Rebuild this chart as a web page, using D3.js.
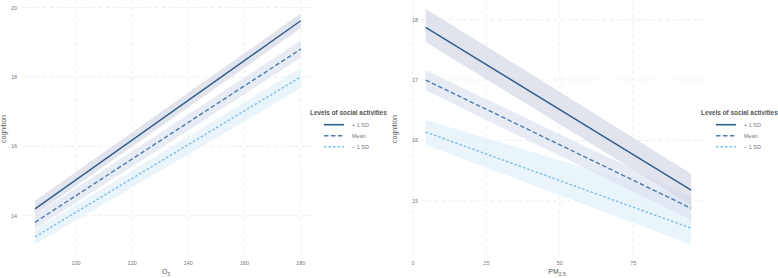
<!DOCTYPE html>
<html>
<head>
<meta charset="utf-8">
<script src="https://cdn.jsdelivr.net/npm/d3@7"></script>
<style>
  body { margin: 0; background: #fff; }
  svg { display: block; font-family: "Liberation Sans", Arial, sans-serif; }
</style>
</head>
<body>
<svg id="chart" width="778" height="278"></svg>
<script>
// series shared by both panels
const levels = ['+ 1 SD', 'Mean', '\u2212 1 SD'];
const lineColors = ['#2c5d8c', '#4c7cb0', '#7ebfe6'];
const bandColors = ['#d6d9e6', '#dbe2f0', '#e0effa'];

// O3 panel (fitted lines at ends of data range)
const o3X = [85.4, 180];
const o3Fit = [[14.2, 19.62], [13.81, 18.8], [13.39, 18.0]];
const o3Lo = [[14.03, 19.40], [13.62, 18.55], [13.17, 17.68]];
const o3Hi = [[14.43, 19.83], [14.02, 19.05], [13.6, 18.26]];
const o3XTicks = [100, 120, 140, 160, 180];
const o3YTicks = [14, 16, 18, 20];

// PM2.5 panel
const pmX = [4.3, 94.7];
const pmFit = [[17.87, 15.18], [17.0, 14.88], [16.14, 14.55]];
const pmLo = [[17.63, 14.93], [16.83, 14.69], [15.93, 14.28]];
const pmHi = [[18.18, 15.45], [17.16, 15.07], [16.34, 15.02]];
const pmXTicks = [0, 25, 50, 75];
const pmYTicks = [15, 16, 17, 18];

const svg = d3.select('#chart');
const dashes = [null, '4.5,2.5', '2.5,2'];

function drawPanel(cfg) {
    const x = d3.scaleLinear().domain(cfg.xDomain).range(cfg.xRange);
    const y = d3.scaleLinear().domain(cfg.yDomain).range([256, 2]);
    const g = svg.append('g');

    // grid
    g.selectAll('.vgrid').data(cfg.xTicks).join('line')
        .attr('x1', d => x(d)).attr('x2', d => x(d))
        .attr('y1', 0).attr('y2', 256)
        .attr('stroke', '#e6e6e6').attr('stroke-width', 0.7)
        .attr('stroke-dasharray', '4,3');
    g.selectAll('.hgrid').data(cfg.yTicks).join('line')
        .attr('x1', x(cfg.xLimits[0]) + cfg.gridPad).attr('x2', x(cfg.xLimits[1]))
        .attr('y1', d => y(d)).attr('y2', d => y(d))
        .attr('stroke', '#e6e6e6').attr('stroke-width', 0.7)
        .attr('stroke-dasharray', '4,3');

    // bands and lines, drawn from bottom series to top
    const area = d3.area().x(d => x(d.x)).y0(d => y(d.lo)).y1(d => y(d.hi));
    const line = d3.line().x(d => x(d.x)).y(d => y(d.v));
    [2, 1, 0].forEach(i => {
        const pts = cfg.xs.map((xv, j) => ({ x: xv, lo: cfg.lo[i][j], hi: cfg.hi[i][j], v: cfg.fit[i][j] }));
        g.append('path').datum(pts).attr('d', area)
            .attr('fill', bandColors[i]).attr('fill-opacity', 0.7);
    });
    [2, 1, 0].forEach(i => {
        const pts = cfg.xs.map((xv, j) => ({ x: xv, v: cfg.fit[i][j] }));
        g.append('path').datum(pts).attr('d', line)
            .attr('fill', 'none').attr('stroke', lineColors[i])
            .attr('stroke-width', 1.4)
            .attr('stroke-dasharray', dashes[i]);
    });

    // tick labels
    g.selectAll('.xt').data(cfg.xTicks).join('text')
        .attr('x', d => x(d)).attr('y', 265)
        .attr('text-anchor', 'middle').attr('font-size', 5.5).attr('fill', '#777')
        .text(d => d);
    g.selectAll('.yt').data(cfg.yTicks).join('text')
        .attr('x', cfg.yLabelX).attr('y', d => y(d) + 2)
        .attr('text-anchor', 'end').attr('font-size', 5.5).attr('fill', '#777')
        .text(d => d);

    // axis titles
    const xt = g.append('text')
        .attr('x', cfg.xTitleX).attr('y', 274)
        .attr('text-anchor', 'middle').attr('font-size', 7).attr('fill', '#555');
    xt.append('tspan').text(cfg.xTitle);
    xt.append('tspan').attr('font-size', 5).attr('dy', 2).text(cfg.xSub);

    g.append('text')
        .attr('transform', `translate(${cfg.yTitleX},129) rotate(-90)`)
        .attr('text-anchor', 'middle').attr('font-size', 7).attr('fill', '#555')
        .text('cognition');

    // legend
    const lg = svg.append('g').attr('transform', `translate(${cfg.legendX},0)`);
    lg.append('text').attr('x', 0).attr('y', 115)
        .attr('font-size', 6.4).attr('font-weight', 'bold').attr('fill', '#555')
        .text('Levels of social activities');
    levels.forEach((lab, i) => {
        const ly = 124.7 + i * 11;
        lg.append('line')
            .attr('x1', cfg.keyX).attr('x2', cfg.keyX + 20)
            .attr('y1', ly).attr('y2', ly)
            .attr('stroke', lineColors[i]).attr('stroke-width', 1.6)
            .attr('stroke-dasharray', dashes[i]);
        lg.append('text').attr('x', cfg.keyX + 28).attr('y', ly + 2)
            .attr('font-size', 5.5).attr('fill', '#777').text(lab);
    });
}

drawPanel({
    xDomain: [100, 180], xRange: [76, 300.7], xLimits: [80.65, 184.75], gridPad: 0,
    yDomain: [12.84, 20.16],
    xs: o3X, fit: o3Fit, lo: o3Lo, hi: o3Hi,
    xTicks: o3XTicks, yTicks: o3YTicks,
    yLabelX: 17, yTitleX: 6,
    xTitle: 'O', xSub: '3', xTitleX: 166,
    legendX: 310, keyX: 14
});

drawPanel({
    xDomain: [0, 75], xRange: [413, 633.3], xLimits: [-0.2, 99.2], gridPad: 8,
    yDomain: [14.09, 18.29],
    xs: pmX, fit: pmFit, lo: pmLo, hi: pmHi,
    xTicks: pmXTicks, yTicks: pmYTicks,
    yLabelX: 418, yTitleX: 397,
    xTitle: 'PM', xSub: '2.5', xTitleX: 557,
    legendX: 701, keyX: 15
});
</script>
</body>
</html>
